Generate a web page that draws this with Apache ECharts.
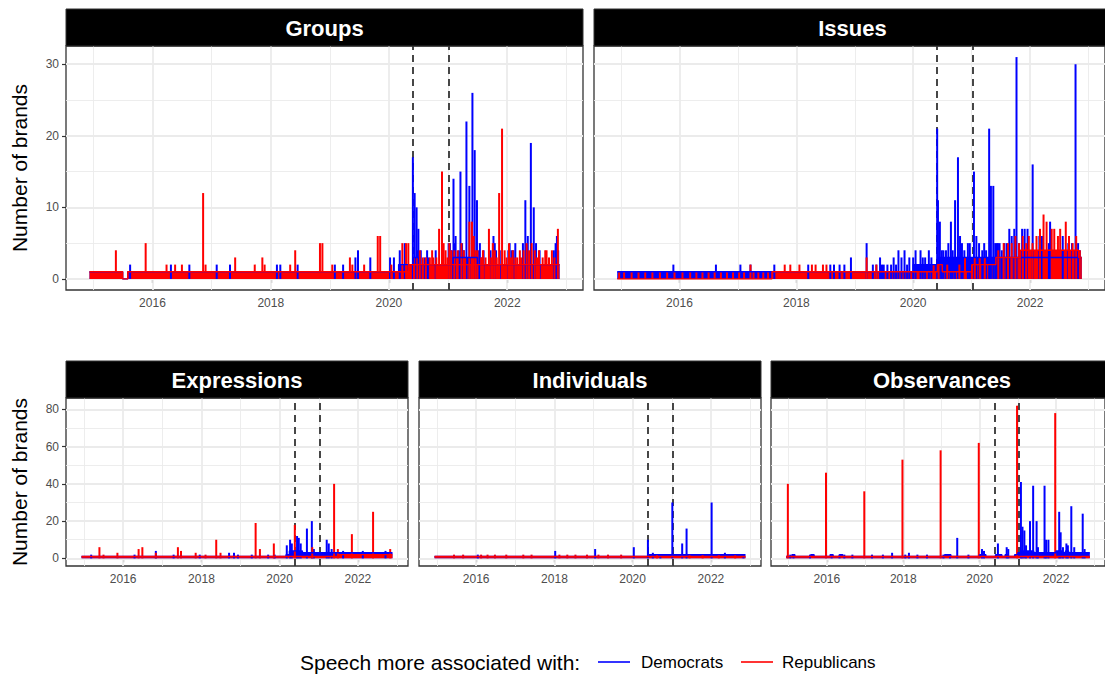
<!DOCTYPE html>
<html><head><meta charset="utf-8">
<script src="https://cdn.jsdelivr.net/npm/echarts@6/dist/echarts.min.js"></script>
<style>html,body{margin:0;padding:0;background:#fff}#chart{width:1105px;height:676px}</style>
</head><body><div id="chart"></div>
<script>
// ================= DATA =================
const DATA_START = '2014-12-08';
const DATA_END = '2022-11-20';
const BAND_FIRST_MONTH = '2014-12';        // monthly band values start here (one value per month)
const EVENT_DATES = ['2020-05-25', '2021-01-06'];
const PANEL_TITLES = ['Groups', 'Issues', 'Expressions', 'Individuals', 'Observances'];
const SERIES_NAMES = ['Democrats', 'Republicans'];
const X_TICKS = ['2016-01-01', '2018-01-01', '2020-01-01', '2022-01-01'];
const X_MINOR = ['2015-01-01', '2017-01-01', '2019-01-01', '2021-01-01', '2023-01-01'];
const Y_TICKS_TOP = [0, 10, 20, 30];
const Y_MINOR_TOP = [5, 15, 25];
const Y_TICKS_BOTTOM = [0, 20, 40, 60, 80];
const Y_MINOR_BOTTOM = [10, 30, 50, 70];
const Y_TITLE = 'Number of brands';
const LEGEND_TITLE = 'Speech more associated with:';

// Monthly level of the dense daily band (Dec 2014 ... Nov 2022)
const groupsDemBand = [
  1,
  1,1,1,1,1,1,0,1,1,1,1,1,
  1,1,1,1,1,1,1,1,1,1,1,1,
  1,1,1,1,1,1,1,1,1,1,1,1,
  1,1,1,1,1,1,1,1,1,1,1,1,
  1,1,1,1,1,1,1,1,1,1,1,1,
  1,1,2,2,2,3,2,2,2,2,2,2,
  2,3,3,3,3,3,2,2,2,2,2,2,
  2,2,2,2,2,2,2,2,2,2,2];
const groupsRepBand = [
  1,
  1,1,1,1,1,1,0,1,1,1,1,1,
  1,1,1,1,1,1,1,1,1,1,1,1,
  1,1,1,1,1,1,1,1,1,1,1,1,
  1,1,1,1,1,1,1,1,1,1,1,1,
  1,1,1,1,1,1,1,1,1,1,1,1,
  1,1,1,1,2,2,2,2,2,2,2,2,
  2,2,2,2,2,2,2,2,2,2,2,2,
  2,2,2,2,2,2,2,2,2,2,2];
const issuesDemBand = [
  1,
  1,1,1,1,1,1,1,1,1,1,1,1,
  1,1,1,1,1,1,1,1,1,1,1,1,
  1,1,1,1,1,1,1,1,1,1,1,1,
  1,1,1,1,1,1,1,1,1,1,1,1,
  1,1,1,1,1,1,1,1,1,1,1,1,
  2,2,2,2,2,3,3,3,3,3,3,3,
  3,3,3,3,3,3,3,3,3,3,3,3,
  3,3,3,3,3,3,3,3,3,3,3];
const issuesRepBand = [
  0,
  0,0,0,0,0,0,0,0,0,0,0,0,
  0,0,0,0,0,0,0,0,0,0,0,0,
  0,0,0,0,0,0,0,1,1,1,1,1,
  1,1,1,1,1,1,1,1,1,1,1,1,
  1,1,1,1,1,1,1,1,1,1,1,1,
  1,1,1,1,1,2,1,1,1,1,1,1,
  2,2,2,2,2,3,3,3,3,3,4,4,
  4,4,4,4,4,4,4,4,4,4,3];
const expressionsDemBand = [
  1,
  1,1,1,1,1,1,1,1,1,1,1,1,
  1,1,1,1,1,1,1,1,1,1,1,1,
  1,1,1,1,1,1,1,1,1,1,1,1,
  1,1,1,1,1,1,1,1,1,1,1,1,
  1,1,1,1,1,1,1,1,1,1,1,1,
  1,1,2,4,4,4,4,3,3,3,3,3,
  3,3,3,3,3,3,3,3,3,3,3,3,
  3,3,3,3,3,3,3,3,3,3,3];
const expressionsRepBand = [
  1,
  1,1,1,1,1,1,1,1,1,1,1,1,
  1,1,1,1,1,1,1,1,1,1,1,1,
  1,1,1,1,1,1,1,1,1,1,1,1,
  1,1,1,1,1,1,1,1,1,1,1,1,
  1,1,1,1,1,1,1,1,1,1,1,1,
  1,1,1,1,1,1,1,1,1,1,1,1,
  1,1,1,1,1,1,2,2,2,2,2,2,
  2,2,2,2,2,2,2,2,2,2,2];
const individualsDemBand = [
  1,
  1,1,1,1,1,1,1,1,1,1,1,1,
  1,1,1,1,1,1,1,1,1,1,1,1,
  1,1,1,1,1,1,1,1,1,1,1,1,
  1,1,1,1,1,1,1,1,1,1,1,1,
  1,1,1,1,1,1,1,1,1,1,1,1,
  1,1,1,1,1,2,2,2,2,2,2,2,
  2,2,2,2,2,2,2,2,2,2,2,2,
  2,2,2,2,2,2,2,2,2,2,2];
const individualsRepBand = [
  1,
  1,1,1,1,1,1,1,1,1,1,1,1,
  1,1,1,1,1,1,1,1,1,1,1,1,
  1,1,1,1,1,1,1,1,1,1,1,1,
  1,1,1,1,1,1,1,1,1,1,1,1,
  1,1,1,1,1,1,1,1,1,1,1,1,
  1,1,1,1,1,1,1,1,1,1,1,1,
  1,1,1,1,1,1,1,1,1,1,1,1,
  1,1,1,1,1,1,1,1,1,1,1];
const observancesDemBand = [
  1,
  1,2,1,1,1,1,1,2,1,1,1,1,
  1,2,1,1,2,1,1,1,1,1,1,1,
  1,1,1,1,1,1,1,1,1,1,1,1,
  1,1,1,1,1,1,1,1,1,1,1,1,
  1,2,2,1,1,1,1,1,1,1,1,1,
  2,2,1,1,1,2,2,1,2,1,1,2,
  3,4,4,4,4,3,3,3,3,3,3,3,
  4,4,3,4,3,3,3,3,3,3,3];
const observancesRepBand = [
  1,
  1,1,1,1,1,1,1,1,1,1,1,1,
  1,1,1,1,1,1,1,1,1,1,1,1,
  1,1,1,1,1,1,1,1,1,1,1,1,
  1,1,1,1,1,1,1,1,1,1,1,1,
  1,1,1,1,1,1,1,1,1,1,1,1,
  1,1,1,1,1,1,1,1,1,1,1,1,
  1,1,1,1,1,1,1,1,1,1,1,1,
  1,1,1,1,1,1,1,1,1,1,1];

// Single-day peaks above the band: [date, number of brands]
const groupsDemSpikes = [
  ['2015-08-16',2],['2016-04-24',2],['2016-08-16',2],['2017-02-01',2],['2017-04-24',2],['2018-02-08',2],
  ['2018-03-01',2],['2018-06-16',2],['2019-02-01',2],['2019-03-24',2],['2019-06-08',3],['2019-06-24',4],
  ['2019-09-08',3],['2020-01-08',3],['2020-02-01',3],['2020-03-08',4],['2020-04-08',5],['2020-05-28',17],
  ['2020-06-08',12],['2020-06-20',10],['2020-06-28',4],['2020-07-01',7],['2020-07-16',4],['2020-08-08',3],
  ['2020-08-24',4],['2020-09-01',3],['2020-10-16',4],['2021-01-04',5],['2021-01-12',5],['2021-01-24',4],
  ['2021-02-03',14],['2021-02-10',5],['2021-02-16',6],['2021-03-08',4],['2021-03-18',15],['2021-03-28',5],
  ['2021-04-08',4],['2021-04-24',22],['2021-05-12',13],['2021-05-31',26],['2021-06-14',18],['2021-06-28',11],
  ['2021-07-04',4],['2021-07-16',5],['2021-07-28',3],['2021-08-08',4],['2021-09-20',4],['2021-10-08',6],
  ['2021-10-16',5],['2021-10-24',4],['2021-11-16',4],['2022-01-08',4],['2022-01-16',5],['2022-01-28',4],
  ['2022-02-08',4],['2022-02-20',5],['2022-04-08',5],['2022-04-23',11],['2022-05-08',6],['2022-05-27',19],
  ['2022-06-14',10],['2022-06-28',5],['2022-07-20',4],['2022-10-16',4],['2022-10-27',5],['2022-11-04',6],
  ['2022-11-12',4]];
const groupsRepSpikes = [
  ['2015-05-20',4],['2015-11-20',5],['2016-03-28',2],['2016-05-20',2],['2016-07-01',2],['2016-11-09',12],
  ['2016-11-24',2],['2017-05-26',3],['2017-09-24',2],['2017-11-10',3],['2017-11-24',2],['2018-05-01',2],
  ['2018-06-01',4],['2018-11-01',5],['2018-11-16',5],['2019-01-16',2],['2019-05-05',3],['2019-05-20',2],
  ['2019-08-01',2],['2019-10-24',6],['2019-11-08',6],['2020-01-16',2],['2020-03-24',5],['2020-04-16',5],
  ['2020-04-30',5],['2020-06-04',3],['2020-06-24',3],['2020-07-10',4],['2020-07-28',3],['2020-08-16',3],
  ['2020-09-10',3],['2020-09-24',4],['2020-10-01',3],['2020-10-20',3],['2020-11-06',7],['2020-11-24',15],
  ['2020-12-04',5],['2020-12-16',4],['2020-12-28',3],['2021-01-08',5],['2021-01-20',4],['2021-02-08',4],
  ['2021-02-24',3],['2021-03-01',4],['2021-03-24',5],['2021-04-08',4],['2021-04-16',3],['2021-05-12',8],
  ['2021-05-28',8],['2021-06-08',6],['2021-06-20',4],['2021-07-01',4],['2021-07-24',3],['2021-08-04',4],
  ['2021-08-20',3],['2021-09-10',7],['2021-09-24',3],['2021-10-04',5],['2021-10-16',4],['2021-10-28',3],
  ['2021-11-12',12],['2021-11-30',21],['2021-12-16',4],['2021-12-28',3],['2022-01-12',5],['2022-01-24',3],
  ['2022-02-04',4],['2022-02-20',3],['2022-03-04',3],['2022-03-20',4],['2022-03-28',3],['2022-04-12',4],
  ['2022-05-01',5],['2022-05-16',4],['2022-06-01',5],['2022-06-20',4],['2022-07-04',3],['2022-07-16',4],
  ['2022-08-08',3],['2022-08-24',4],['2022-09-01',4],['2022-09-16',3],['2022-10-04',4],['2022-10-20',3],
  ['2022-11-10',7]];
const issuesDemSpikes = [
  ['2015-11-24',2],['2016-08-16',2],['2017-01-16',2],['2017-03-20',2],['2017-08-16',2],['2018-03-16',2],
  ['2018-08-01',2],['2018-08-24',2],['2018-09-28',2],['2018-10-28',2],['2018-12-08',3],['2019-03-16',5],
  ['2019-04-24',2],['2019-05-16',2],['2019-06-08',3],['2019-06-20',2],['2019-07-01',2],['2019-07-24',2],
  ['2019-08-16',2],['2019-09-01',3],['2019-09-16',2],['2019-10-01',4],['2019-10-20',3],['2019-11-08',4],
  ['2019-11-24',2],['2019-12-08',3],['2020-01-01',3],['2020-01-16',4],['2020-02-16',4],
  ['2020-03-01',3],['2020-03-16',3],['2020-04-08',4],['2020-04-24',3],['2020-05-30',21],['2020-06-04',11],
  ['2020-06-16',8],['2020-06-28',4],['2020-07-08',4],['2020-07-24',4],['2020-08-08',5],['2020-08-24',8],
  ['2020-09-04',4],['2020-09-19',11],['2020-10-07',17],['2020-10-20',6],['2020-11-01',5],['2020-11-16',4],
  ['2020-12-08',5],['2020-12-20',5],['2021-01-15',15],['2021-01-30',6],['2021-02-16',5],['2021-03-08',4],
  ['2021-03-20',5],['2021-04-01',4],['2021-04-20',21],['2021-05-01',13],['2021-05-16',13],['2021-05-28',5],
  ['2021-06-06',5],['2021-06-14',5],['2021-06-24',5],['2021-07-08',4],['2021-07-24',5],['2021-08-08',5],
  ['2021-08-24',7],['2021-09-08',6],['2021-09-24',7],['2021-10-08',31],['2021-10-24',5],['2021-11-12',7],
  ['2021-11-28',7],['2021-12-16',7],['2022-01-17',16],['2022-02-28',6],['2022-03-16',6],['2022-04-28',5],
  ['2022-05-06',8],['2022-07-24',6],['2022-08-28',5],['2022-09-20',5],['2022-10-12',30],['2022-10-28',5],
  ['2022-11-08',4]];
const issuesRepSpikes = [
  ['2014-12-20',1],['2015-01-20',1],['2015-03-08',1],['2015-04-20',1],['2015-06-01',1],['2015-07-16',1],
  ['2015-09-01',1],['2015-10-16',1],['2015-12-01',1],['2016-01-20',1],['2016-03-08',1],['2016-04-16',1],
  ['2016-05-24',1],['2016-07-01',1],['2016-08-08',1],['2016-09-16',1],['2016-10-24',1],['2016-12-01',1],
  ['2017-01-08',1],['2017-02-08',1],['2017-03-20',2],['2017-04-08',1],['2017-05-08',1],['2017-06-08',1],
  ['2017-07-08',1],['2017-10-20',2],['2017-11-24',2],['2018-01-20',2],['2018-04-08',2],['2018-05-01',2],
  ['2018-06-16',2],['2018-07-08',2],['2019-03-16',3],['2019-05-16',2],['2020-05-08',2],['2020-06-08',2],
  ['2020-08-01',2],['2020-10-16',2],['2020-11-20',3],['2021-01-20',3],['2021-02-20',3],['2021-03-24',3],
  ['2021-06-16',4],['2021-07-20',5],['2021-08-16',5],['2021-09-08',5],['2021-10-01',6],['2021-10-24',5],
  ['2021-11-16',6],['2021-12-08',5],['2021-12-24',6],['2022-01-16',5],['2022-02-10',6],['2022-03-04',7],
  ['2022-03-26',9],['2022-04-14',8],['2022-05-16',7],['2022-06-01',7],['2022-06-24',6],['2022-07-08',7],
  ['2022-08-12',8],['2022-09-01',6],['2022-09-24',5],['2022-10-16',6],['2022-11-08',4]];
const expressionsDemSpikes = [
  ['2015-03-08',2],['2016-04-16',2],['2016-11-01',4],['2017-04-16',2],['2017-12-16',2],['2018-09-16',3],
  ['2018-11-01',3],['2018-12-08',2],['2019-04-16',2],['2019-09-16',2],['2019-11-16',2],['2020-03-08',7],
  ['2020-04-08',10],['2020-04-24',8],['2020-06-12',12],['2020-06-28',11],['2020-07-16',8],['2020-09-12',16],
  ['2020-10-28',20],['2020-11-16',5],['2021-03-16',10],['2021-04-04',8],['2021-05-01',5],['2021-08-16',4],
  ['2022-02-16',4],['2022-09-16',4]];
const expressionsRepSpikes = [
  ['2015-05-24',6],['2015-07-01',2],['2015-11-08',3],['2016-05-24',5],['2016-06-28',6],['2016-11-01',3],
  ['2017-05-26',6],['2017-06-24',4],['2017-11-08',3],['2018-02-08',2],['2018-05-19',10],['2018-06-28',3],
  ['2019-05-22',19],['2019-07-01',5],['2019-11-08',8],['2020-05-22',18],['2020-11-01',6],['2021-05-24',40],
  ['2021-06-28',5],['2021-11-06',13],['2022-05-23',25],['2022-10-30',5]];
const individualsDemSpikes = [
  ['2016-01-16',2],['2018-01-08',4],['2019-01-16',5],['2020-01-12',6],['2020-05-23',10],['2020-07-08',3],
  ['2020-09-16',2],['2021-01-06',30],['2021-04-08',8],['2021-05-19',16],['2022-01-08',30],['2022-05-12',3],
  ['2022-11-01',2]];
const individualsRepSpikes = [
  ['2015-06-08',2],['2015-09-01',2],['2016-02-16',2],['2016-04-16',2],['2016-06-24',2],['2016-10-08',2],
  ['2017-03-16',2],['2017-06-01',2],['2018-02-16',2],['2018-05-01',2],['2018-07-16',2],['2018-11-01',2],
  ['2019-02-16',2],['2019-05-16',2],['2019-09-16',2],['2020-08-16',2],['2021-06-16',2],['2021-10-16',2],
  ['2022-03-16',2],['2022-08-16',2]];
const observancesDemSpikes = [
  ['2015-01-16',2],['2015-02-16',2],['2015-07-24',2],['2016-02-16',2],['2016-05-01',2],['2016-06-16',2],
  ['2016-09-01',2],['2017-03-08',2],['2017-06-20',2],['2017-09-16',3],['2018-01-20',2],['2018-02-24',3],
  ['2018-05-16',2],['2018-08-16',2],['2019-01-20',2],['2019-03-24',2],['2019-06-01',11],['2019-09-16',2],
  ['2020-01-24',5],['2020-02-12',4],['2020-06-24',8],['2020-09-16',6],['2020-10-01',5],['2021-01-30',41],
  ['2021-02-14',17],['2021-03-04',15],['2021-03-20',7],['2021-04-27',20],['2021-05-27',39],['2021-06-29',20],
  ['2021-07-12',6],['2021-09-13',39],['2021-09-28',10],['2021-10-20',10],['2022-01-31',25],['2022-02-14',14],
  ['2022-03-08',6],['2022-04-10',8],['2022-04-24',7],['2022-05-27',28],['2022-06-24',6],['2022-09-13',24],
  ['2022-10-01',5]];
const observancesRepSpikes = [
  ['2014-12-24',40],['2015-12-24',46],['2016-12-24',36],['2017-12-24',53],['2018-12-24',58],
  ['2019-12-24',62],['2020-12-24',82],['2021-12-24',78]];

// ================= LAYOUT / STYLE =================
const FONT = '"Liberation Sans", Arial, Helvetica, sans-serif';
const COLORS = ['#0000FF', '#FF0000'];
const LAYOUT = [
  {left: 66,  top: 46,  width: 517, height: 244, row: 0, first: true},
  {left: 594, top: 46,  width: 517, height: 244, row: 0, first: false},
  {left: 66,  top: 398, width: 342, height: 168, row: 1, first: true},
  {left: 419, top: 398, width: 342, height: 168, row: 1, first: false},
  {left: 771, top: 398, width: 342, height: 168, row: 1, first: false}
];
const STRIP_H = 37;
const BANDS = [[groupsDemBand, groupsRepBand], [issuesDemBand, issuesRepBand],
  [expressionsDemBand, expressionsRepBand], [individualsDemBand, individualsRepBand],
  [observancesDemBand, observancesRepBand]];
const SPIKES = [[groupsDemSpikes, groupsRepSpikes], [issuesDemSpikes, issuesRepSpikes],
  [expressionsDemSpikes, expressionsRepSpikes], [individualsDemSpikes, individualsRepSpikes],
  [observancesDemSpikes, observancesRepSpikes]];

function ts(s) { const p = s.split('-').map(Number); return new Date(p[0], p[1] - 1, p[2] || 1).getTime(); }
function bandPoints(band) {
  const [y0, m0] = BAND_FIRST_MONTH.split('-').map(Number);
  const pts = [];
  for (let i = 0; i < band.length; i++) {
    const t = i === 0 ? ts(DATA_START) : new Date(y0, m0 - 1 + i, 1).getTime();
    pts.push([t, band[i]]);
  }
  pts.push([ts(DATA_END), band[band.length - 1]]);
  return pts;
}

// ggplot-like 5% expansion
const x0 = ts(DATA_START), x1 = ts(DATA_END);
const xPad = (x1 - x0) * 0.05;
const rowMax = [0, 0];
LAYOUT.forEach((L, i) => {
  for (let k = 0; k < 2; k++) {
    BANDS[i][k].forEach(v => rowMax[L.row] = Math.max(rowMax[L.row], v));
    SPIKES[i][k].forEach(d => rowMax[L.row] = Math.max(rowMax[L.row], d[1]));
  }
});
const yRange = rowMax.map(m => [-m * 0.05, m * 1.05]);

const grids = [], xAxes = [], yAxes = [], series = [], graphics = [];
LAYOUT.forEach((L, i) => {
  const yt = L.row === 0 ? Y_TICKS_TOP : Y_TICKS_BOTTOM;
  const ym = L.row === 0 ? Y_MINOR_TOP : Y_MINOR_BOTTOM;
  grids.push({left: L.left, top: L.top, width: L.width, height: L.height, show: true,
    borderColor: '#333333', borderWidth: 1.3, backgroundColor: '#FFFFFF', containLabel: false});
  xAxes.push({type: 'value', gridIndex: i, min: x0 - xPad, max: x1 + xPad, scale: true,
    axisLine: {show: false}, splitLine: {show: false},
    axisTick: {show: true, customValues: X_TICKS.map(ts), length: 4, lineStyle: {color: '#333333', width: 1.2}},
    axisLabel: {show: true, customValues: X_TICKS.map(ts), formatter: v => String(new Date(v).getFullYear()),
      color: '#4D4D4D', fontSize: 12, fontFamily: FONT, margin: 7}});
  yAxes.push({type: 'value', gridIndex: i, min: yRange[L.row][0], max: yRange[L.row][1],
    axisLine: {show: false}, splitLine: {show: false},
    axisTick: {show: L.first, customValues: yt, length: 4, lineStyle: {color: '#333333', width: 1.2}},
    axisLabel: {show: L.first, customValues: yt, color: '#4D4D4D', fontSize: 12, fontFamily: FONT, margin: 7},
    name: L.first ? Y_TITLE : '', nameLocation: 'middle', nameRotate: 90, nameGap: 36,
    nameTextStyle: {fontSize: 21, color: '#000000', fontFamily: FONT}});

  const ml = [];
  X_MINOR.forEach(d => ml.push({xAxis: ts(d), lineStyle: {color: '#EBEBEB', width: 0.9, type: 'solid'}}));
  ym.forEach(v => ml.push({yAxis: v, lineStyle: {color: '#EBEBEB', width: 0.9, type: 'solid'}}));
  X_TICKS.forEach(d => ml.push({xAxis: ts(d), lineStyle: {color: '#EBEBEB', width: 1.8, type: 'solid'}}));
  yt.forEach(v => ml.push({yAxis: v, lineStyle: {color: '#EBEBEB', width: 1.8, type: 'solid'}}));
  EVENT_DATES.forEach(d => ml.push({xAxis: ts(d), lineStyle: {color: '#333333', width: 1.8, type: [7, 5]}}));
  series.push({type: 'line', name: 'grid' + i, xAxisIndex: i, yAxisIndex: i, data: [[x0, 0]], symbol: 'none',
    lineStyle: {width: 0, opacity: 0}, silent: true, z: 1,
    markLine: {silent: true, symbol: ['none', 'none'], label: {show: false}, z: 1, animation: false, data: ml}});

  for (let k = 0; k < 2; k++) {
    series.push({type: 'line', name: SERIES_NAMES[k], xAxisIndex: i, yAxisIndex: i, step: 'end',
      data: bandPoints(BANDS[i][k]), symbol: 'none', silent: true, z: 2,
      lineStyle: {color: COLORS[k], width: 1.4}, areaStyle: {color: COLORS[k], opacity: 1}});
    series.push({type: 'bar', name: SERIES_NAMES[k], xAxisIndex: i, yAxisIndex: i,
      data: SPIKES[i][k].map(d => [ts(d[0]), d[1]]), barWidth: 2, barGap: '-100%', silent: true, z: 2,
      itemStyle: {color: COLORS[k]}});
  }

  const sTop = L.top - STRIP_H;
  graphics.push({type: 'rect', shape: {x: L.left, y: sTop, width: L.width, height: STRIP_H},
    style: {fill: '#000000', stroke: '#333333', lineWidth: 1}, z: 10});
  graphics.push({type: 'text', x: L.left + L.width / 2, y: sTop + STRIP_H / 2 + 1, z: 11,
    style: {text: PANEL_TITLES[i], fill: '#FFFFFF', fontSize: 22, fontWeight: 'bold', fontFamily: FONT,
      textAlign: 'center', textVerticalAlign: 'middle'}});
});

// legend
const LEG_Y = 662;
graphics.push({type: 'text', x: 300, y: LEG_Y, style: {text: LEGEND_TITLE, fill: '#000', fontSize: 21,
  fontFamily: FONT, textAlign: 'left', textVerticalAlign: 'middle'}});
[[598, 641], [741, 782]].forEach((p, k) => {
  graphics.push({type: 'line', shape: {x1: p[0], y1: LEG_Y, x2: p[0] + 32, y2: LEG_Y},
    style: {stroke: COLORS[k], lineWidth: 1.6}});
  graphics.push({type: 'text', x: p[1], y: LEG_Y, style: {text: SERIES_NAMES[k], fill: '#000', fontSize: 17,
    fontFamily: FONT, textAlign: 'left', textVerticalAlign: 'middle'}});
});

const chart = echarts.init(document.getElementById('chart'), null, {renderer: 'svg', width: 1105, height: 676});
chart.setOption({
  animation: false,
  backgroundColor: '#FFFFFF',
  grid: grids, xAxis: xAxes, yAxis: yAxes, series: series, graphic: graphics,
  tooltip: {show: false}
});
</script>
</body></html>
